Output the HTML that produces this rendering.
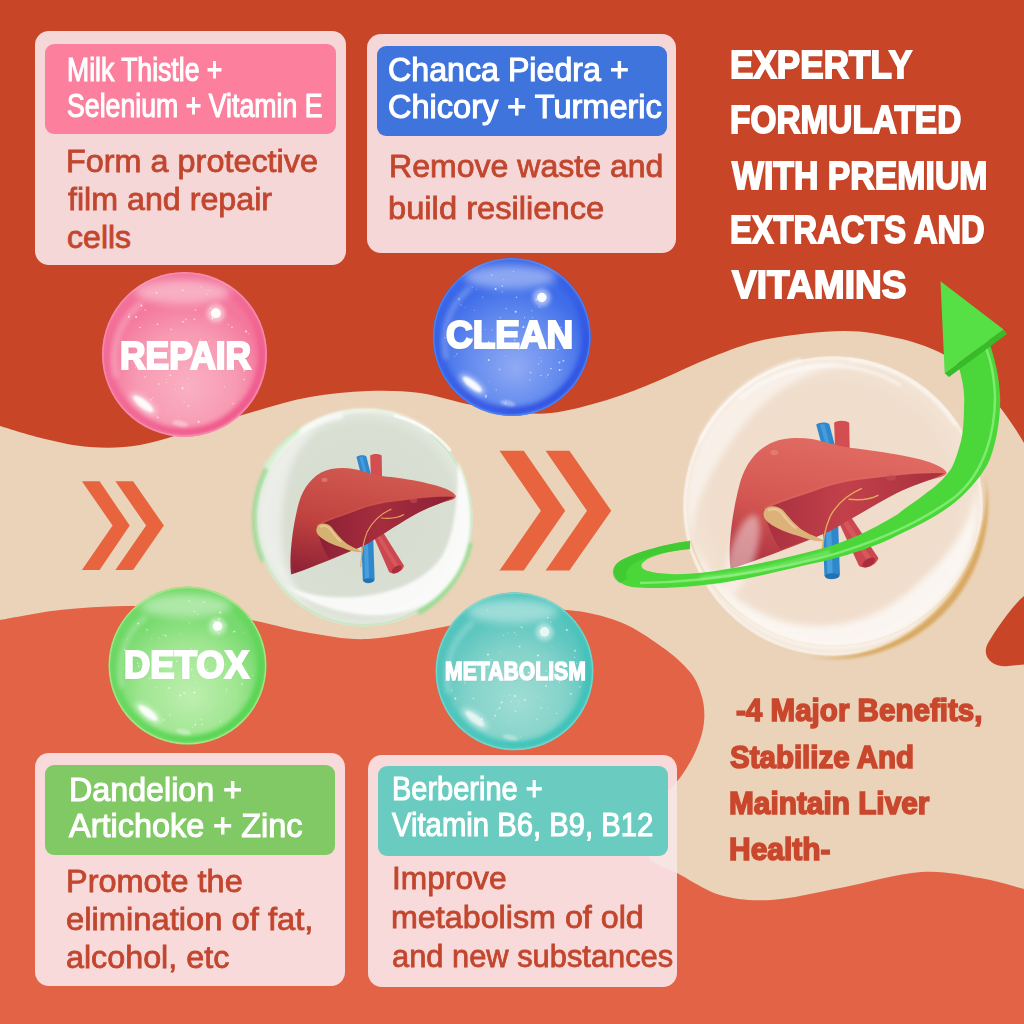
<!DOCTYPE html>
<html><head><meta charset="utf-8"><style>
html,body{margin:0;padding:0;width:1024px;height:1024px;overflow:hidden;background:#C94528}
body{position:relative;font-family:"Liberation Sans",sans-serif}
</style></head><body>
<svg width="1024" height="1024" viewBox="0 0 1024 1024" style="position:absolute;left:0;top:0">
<rect width="1024" height="1024" fill="#C94528"/>
<path d="M-5,424 C-4.2,424.3 -8.3,423.5 0.0,426.0 C8.3,428.5 30.0,435.5 45.0,439.0 C60.0,442.5 74.2,446.0 90.0,447.0 C105.8,448.0 121.7,448.2 140.0,445.0 C158.3,441.8 180.7,433.7 200.0,428.0 C219.3,422.3 237.7,416.2 256.0,411.0 C274.3,405.8 291.3,400.3 310.0,397.0 C328.7,393.7 349.7,391.7 368.0,391.0 C386.3,390.3 403.5,390.8 420.0,393.0 C436.5,395.2 452.0,401.0 467.0,404.0 C482.0,407.0 496.0,409.5 510.0,411.0 C524.0,412.5 534.8,414.8 551.0,413.0 C567.2,411.2 588.8,405.5 607.0,400.0 C625.2,394.5 642.5,387.2 660.0,380.0 C677.5,372.8 694.0,363.8 712.0,357.0 C730.0,350.2 746.2,343.3 768.0,339.0 C789.8,334.7 821.5,331.2 843.0,331.0 C864.5,330.8 881.0,334.5 897.0,338.0 C913.0,341.5 927.3,346.3 939.0,352.0 C950.7,357.7 957.0,363.0 967.0,372.0 C977.0,381.0 989.5,394.2 999.0,406.0 C1008.5,417.8 1018.8,434.0 1024.0,443.0 C1029.2,452.0 1029.0,457.2 1030.0,460.0 L1030,1030 L-5,1030 Z" fill="#EBD3B9"/>
<path d="M-5,621 C-4.2,620.8 -10.8,621.8 0.0,620.0 C10.8,618.2 39.2,612.3 60.0,610.0 C80.8,607.7 103.3,606.2 125.0,606.0 C146.7,605.8 168.2,606.5 190.0,609.0 C211.8,611.5 236.0,617.0 256.0,621.0 C276.0,625.0 291.3,630.0 310.0,633.0 C328.7,636.0 345.8,640.0 368.0,639.0 C390.2,638.0 419.3,631.2 443.0,627.0 C466.7,622.8 489.3,616.8 510.0,614.0 C530.7,611.2 548.7,608.7 567.0,610.0 C585.3,611.3 604.2,615.8 620.0,622.0 C635.8,628.2 650.3,638.7 662.0,647.0 C673.7,655.3 683.3,663.7 690.0,672.0 C696.7,680.3 699.7,688.7 702.0,697.0 C704.3,705.3 704.8,713.5 704.0,722.0 C703.2,730.5 700.7,739.2 697.0,748.0 C693.3,756.8 688.2,766.3 682.0,775.0 C675.8,783.7 663.7,795.8 660.0,800.0 L640,830 L650,860 L660,866 C662.8,867.2 667.0,868.2 677.0,873.0 C687.0,877.8 704.3,890.5 720.0,895.0 C735.7,899.5 751.0,901.2 771.0,900.0 C791.0,898.8 815.0,892.7 840.0,888.0 C865.0,883.3 897.7,873.7 921.0,872.0 C944.3,870.3 962.8,875.2 980.0,878.0 C997.2,880.8 1015.7,887.0 1024.0,889.0 C1032.3,891.0 1029.0,889.8 1030.0,890.0 L1030,1030 L-5,1030 Z" fill="#E36346"/>
<path d="M1030,594 L1024,596 C1012,606 997,628 988,643 C980,658 995,668 1008,666 L1030,664 Z" fill="#C94528"/>
<g fill="#E8643F">
<polygon points="81.9,481.2 99.6,481.2 129.7,525.6 99.6,570 81.9,570 112.6,525.6"/>
<polygon points="115.4,481.2 133.1,481.2 163.9,525.6 133.1,570 115.4,570 146.1,525.6"/>
<polygon points="499.5,450.8 523.75,450.8 565.2,510.8 523.75,570.6 499.5,570.6 540.9,510.8"/>
<polygon points="545.6,450.8 569.4,450.8 611.25,510.8 569.4,570.6 545.6,570.6 587,510.8"/>
</g>
</svg>
<svg width="1024" height="1024" viewBox="0 0 1024 1024" style="position:absolute;left:0;top:0">
<defs>
 <filter id="cblur" x="-50%" y="-50%" width="200%" height="200%"><feGaussianBlur stdDeviation="1.5"/></filter>
 <filter id="cblur3" x="-50%" y="-50%" width="200%" height="200%"><feGaussianBlur stdDeviation="3"/></filter>
 <radialGradient id="cb" cx="363.8" cy="517.7" r="109" gradientUnits="userSpaceOnUse">
  <stop offset="0" stop-color="#D6DBD0"/><stop offset="0.85" stop-color="#DADFD4"/><stop offset="1" stop-color="#E4EADF"/>
 </radialGradient>
 <radialGradient id="rb" cx="833" cy="506" r="150" gradientUnits="userSpaceOnUse">
  <stop offset="0" stop-color="#F0DCCB"/><stop offset="0.8" stop-color="#F1DFCF"/><stop offset="1" stop-color="#F3E6D8"/>
 </radialGradient>
</defs>
<!-- center bubble back -->
<circle cx="363.8" cy="517.7" r="109" fill="url(#cb)"/>
<circle cx="363.8" cy="517.7" r="107.5" fill="none" stroke="#B8E6B0" stroke-width="2.5" opacity="0.55"/>
<path d="M262,560 A109,109 0 0 1 300,430" stroke="#8FDC8F" stroke-width="4" fill="none" opacity="0.8" stroke-linecap="round" filter="url(#cblur)"/>
<path d="M470,545 A109,109 0 0 1 420,612" stroke="#8FDC8F" stroke-width="5" fill="none" opacity="0.85" stroke-linecap="round" filter="url(#cblur)"/>
<path d="M268,466 A104,104 0 0 1 340,416" stroke="#fff" stroke-width="7" fill="none" opacity="0.55" stroke-linecap="round" filter="url(#cblur)"/>
<path d="M300,432 A108,108 0 0 1 430,432" stroke="#fff" stroke-width="3" fill="none" opacity="0.8" stroke-linecap="round" filter="url(#cblur)"/>
<path d="M395,416 A104,104 0 0 1 450,450" stroke="#fff" stroke-width="3" fill="none" opacity="0.7" stroke-linecap="round"/>

<g transform="translate(280,440) scale(0.18556)">
 <defs>
  <linearGradient id="luc" x1="0.35" y1="0" x2="0.05" y2="1">
   <stop offset="0" stop-color="#D0584F"/><stop offset="0.5" stop-color="#C0423F"/><stop offset="1" stop-color="#8C2036"/>
  </linearGradient>
  <linearGradient id="llc" x1="0" y1="0" x2="1" y2="0">
   <stop offset="0" stop-color="#8C2036"/><stop offset="0.45" stop-color="#A52D3D"/><stop offset="1" stop-color="#8C2036"/>
  </linearGradient>
 </defs>
 <!-- vessels top -->
 <path d="M412,92 C425,80 458,80 466,90 L492,195 L440,200 Z" fill="#2F88CC"/>
 <path d="M428,92 L446,90 L470,190 L455,192 Z" fill="#56A9E2" opacity="0.6"/>
 <path d="M486,84 C496,72 538,72 548,84 L550,200 L490,200 Z" fill="#D24E50"/>
 <!-- vessels bottom -->
 <path d="M438,515 L502,515 L510,752 C498,778 452,778 446,755 Z" fill="#2F88CC"/>
 <path d="M452,540 L474,540 L480,748 C472,758 462,758 458,750 Z" fill="#5BB3E8" opacity="0.55"/>
 <ellipse cx="478" cy="757" rx="30" ry="12" fill="#2470B0"/>
 <path d="M498,505 L552,492 L668,678 C660,712 610,730 588,712 Z" fill="#CC4750"/>
 <path d="M520,520 L540,515 L640,680 L622,690 Z" fill="#E06A6A" opacity="0.5"/>
 <ellipse cx="628" cy="698" rx="30" ry="16" transform="rotate(-35 628 698)" fill="#A82E3A"/>
 <!-- liver body -->
 <path d="M60,725 C48,640 66,480 96,360 C112,290 150,215 222,175 C285,143 380,145 450,170 C500,185 540,195 600,200 C680,210 760,225 820,240 C880,255 930,275 948,300 C952,318 920,325 880,335 C800,360 720,400 640,450 C560,500 480,560 380,600 C260,650 140,700 60,725 Z" fill="url(#luc)"/>
 <path d="M196,470 C250,432 330,412 400,385 C470,355 540,338 620,330 C720,318 830,300 940,306 C905,330 820,352 740,395 C660,440 560,505 470,560 C400,592 330,618 265,640 C235,600 212,530 196,470 Z" fill="url(#llc)"/>
 <path d="M196,462 C250,428 330,408 400,381 C470,351 540,334 620,326 C720,314 830,296 940,302" fill="none" stroke="#D0584F" stroke-width="10" opacity="0.45"/>
 <!-- gallbladder -->
 <path d="M198,472 C206,446 250,442 276,468 C302,500 322,530 362,560 C392,580 420,586 442,602 C420,610 380,598 340,582 C280,562 232,542 206,512 C194,498 194,484 198,472 Z" fill="#D6B272"/>
 <path d="M215,470 C230,458 255,462 270,480 C285,500 300,525 330,548" fill="none" stroke="#F0D9A8" stroke-width="10" opacity="0.6"/>
 <!-- bile ducts -->
 <path d="M435,685 C440,625 440,565 470,495 C500,435 550,395 600,372 M545,420 C590,425 630,425 668,402" fill="none" stroke="#E2A85A" stroke-width="6"/>
 <!-- highlights -->
 <ellipse cx="240" cy="215" rx="16" ry="12" fill="#E58A80" opacity="0.6"/>
 <ellipse cx="720" cy="325" rx="20" ry="14" fill="#C55058" opacity="0.6"/>
</g>
<path d="M285,585 C320,614 390,628 432,600 C458,580 470,555 470,520 C470,500 466,480 458,462 C458,500 455,540 438,562 C420,582 395,592 365,596 C335,600 305,596 285,585 Z" fill="#fff" opacity="0.85" filter="url(#cblur)"/>
<path d="M311.8,607.8 L308.4,605.7 L305.1,603.6 L301.9,601.3 L298.8,598.9 L295.8,596.4 L292.9,593.8 L290.0,591.0 L287.3,588.2 L284.7,585.2 L282.2,582.2 L279.8,579.1 L277.6,575.9 L275.4,572.6 L273.4,569.2 L271.6,565.7 L269.8,562.2 L268.2,558.6 L266.7,555.0 L265.4,551.3 L264.2,547.5 L263.1,543.7 L262.2,539.9 L261.4,536.1 L260.8,532.2 L260.3,528.3 L260.0,524.4 L259.8,520.4 L259.8,516.5 L259.9,512.6 L260.2,508.6 L260.6,504.7 L261.2,500.8 L261.9,497.0 L262.7,493.1 L263.7,489.3 L264.9,485.6 L266.2,481.8 L267.6,478.2 L269.2,474.6 L270.9,471.0 L272.7,467.5 L274.7,464.1 L276.7,460.8 L279.0,457.6 L281.3,454.4 L283.7,451.3 L286.3,448.3 L289.0,445.5 L291.8,442.7 L294.7,440.0 L297.6,437.5 L300.7,435.0 L303.9,432.7 L307.2,430.5 L310.5,428.4 L313.9,426.4 L317.4,424.6 L320.9,422.9 L324.6,421.4 L328.2,420.0 L328.2,420.0 L324.8,422.0 L321.6,424.3 L318.5,426.8 L315.5,429.4 L312.7,432.1 L310.1,435.0 L307.6,437.9 L305.3,441.0 L303.1,444.0 L301.0,447.2 L299.1,450.3 L297.4,453.5 L295.7,456.8 L294.2,460.0 L292.8,463.2 L291.5,466.5 L290.4,469.7 L289.3,472.9 L288.3,476.1 L287.4,479.3 L286.6,482.5 L285.9,485.7 L285.2,488.8 L284.6,492.0 L284.0,495.1 L283.6,498.2 L283.1,501.3 L282.7,504.4 L282.4,507.5 L282.1,510.6 L281.9,513.6 L281.7,516.7 L281.5,519.9 L281.4,523.0 L281.3,526.1 L281.3,529.3 L281.4,532.5 L281.5,535.7 L281.7,538.9 L281.9,542.2 L282.2,545.5 L282.6,548.9 L283.1,552.2 L283.7,555.6 L284.4,559.0 L285.2,562.5 L286.2,565.9 L287.2,569.4 L288.4,572.8 L289.7,576.3 L291.2,579.7 L292.8,583.1 L294.6,586.5 L296.5,589.8 L298.6,593.1 L300.9,596.3 L303.4,599.4 L306.0,602.4 L308.8,605.2 L311.8,607.8 Z" fill="#fff" opacity="0.45" filter="url(#cblur3)"/>
<!-- right bubble -->
<circle cx="833" cy="506" r="150" fill="url(#rb)" opacity="0.9"/>
<circle cx="833" cy="506" r="148" fill="none" stroke="#F7EDE2" stroke-width="3" opacity="0.8"/>
<path d="M690,540 A151,151 0 0 0 983,520" stroke="#E9CFA6" stroke-width="2" fill="none" opacity="0.9"/>
<path d="M984.6,473.0 L985.6,477.9 L986.4,482.9 L987.0,487.8 L987.5,492.8 L987.8,497.8 L988.0,502.8 L988.0,507.9 L987.8,512.9 L987.5,517.9 L987.0,522.9 L986.3,527.9 L985.5,532.8 L984.5,537.7 L983.3,542.6 L982.0,547.4 L980.6,552.2 L979.0,557.0 L977.2,561.7 L975.3,566.3 L973.2,570.9 L971.0,575.4 L968.6,579.8 L966.1,584.2 L963.4,588.4 L960.7,592.6 L957.7,596.7 L954.7,600.7 L951.5,604.5 L948.2,608.3 L944.8,612.0 L941.2,615.5 L937.6,619.0 L933.8,622.3 L929.9,625.5 L926.0,628.5 L921.9,631.5 L917.7,634.3 L913.5,636.9 L909.1,639.4 L904.7,641.8 L900.2,644.0 L895.7,646.1 L891.0,648.1 L886.3,649.8 L881.6,651.5 L876.8,652.9 L872.0,654.3 L867.1,655.4 L862.2,656.4 L857.2,657.2 L852.2,657.9 L847.2,658.4 L842.2,658.8 L837.2,659.0 L832.2,659.0 L827.2,658.8 L822.2,658.5 L817.2,658.1 L812.2,657.5 L807.3,656.7 L807.3,656.7 L812.2,657.2 L817.2,657.6 L822.2,657.8 L827.2,657.8 L832.2,657.6 L837.2,657.2 L842.1,656.7 L847.0,656.0 L851.9,655.2 L856.7,654.2 L861.5,653.0 L866.3,651.7 L870.9,650.2 L875.6,648.6 L880.1,646.9 L884.6,645.0 L889.0,643.0 L893.4,640.9 L897.7,638.7 L901.9,636.3 L906.0,633.8 L910.0,631.2 L914.0,628.4 L917.8,625.6 L921.6,622.7 L925.3,619.6 L928.9,616.5 L932.4,613.3 L935.8,609.9 L939.1,606.5 L942.3,603.0 L945.4,599.4 L948.4,595.7 L951.3,591.9 L954.1,588.1 L956.8,584.2 L959.4,580.2 L961.9,576.1 L964.3,572.0 L966.6,567.8 L968.8,563.5 L970.9,559.2 L972.8,554.8 L974.7,550.4 L976.4,545.8 L978.0,541.3 L979.5,536.6 L980.8,531.9 L982.0,527.2 L983.1,522.4 L984.0,517.6 L984.7,512.7 L985.3,507.8 L985.8,502.9 L986.0,497.9 L986.1,492.9 L986.1,487.9 L985.8,482.9 L985.3,478.0 L984.6,473.0 Z" fill="#D9A860" opacity="1" filter="url(#cblur)"/>
<path d="M692.0,543.8 L690.7,538.8 L689.7,533.9 L688.8,528.8 L688.1,523.8 L687.6,518.7 L687.2,513.6 L687.0,508.5 L687.0,503.5 L687.2,498.4 L687.6,493.3 L688.1,488.2 L688.8,483.2 L689.7,478.1 L690.7,473.2 L692.0,468.2 L693.4,463.3 L695.0,458.5 L696.7,453.7 L698.6,449.0 L700.7,444.3 L702.9,439.7 L705.3,435.2 L707.9,430.8 L710.6,426.5 L713.4,422.3 L716.4,418.1 L719.5,414.1 L722.8,410.2 L726.2,406.4 L729.8,402.8 L733.4,399.2 L737.2,395.8 L741.1,392.5 L745.1,389.4 L749.3,386.4 L753.5,383.6 L757.8,380.9 L762.2,378.3 L766.7,375.9 L771.3,373.7 L776.0,371.6 L780.7,369.7 L785.5,368.0 L790.3,366.4 L795.2,365.0 L800.2,363.7 L805.1,362.7 L810.2,361.8 L815.2,361.1 L820.3,360.6 L825.4,360.2 L830.5,360.0 L835.5,360.0 L840.6,360.2 L845.7,360.6 L850.8,361.1 L855.8,361.8 L860.9,362.7 L865.8,363.7 L870.8,365.0 L870.8,365.0 L865.7,364.4 L860.6,364.1 L855.5,364.1 L850.4,364.4 L845.4,364.8 L840.4,365.5 L835.4,366.4 L830.6,367.4 L825.8,368.7 L821.1,370.1 L816.5,371.6 L812.0,373.3 L807.6,375.2 L803.2,377.1 L799.0,379.2 L794.9,381.4 L790.9,383.7 L787.0,386.1 L783.2,388.6 L779.5,391.2 L775.9,393.9 L772.4,396.6 L769.0,399.4 L765.6,402.3 L762.4,405.2 L759.3,408.2 L756.2,411.2 L753.3,414.3 L750.4,417.4 L747.6,420.6 L744.9,423.8 L742.2,427.1 L739.6,430.4 L737.1,433.8 L734.7,437.2 L732.3,440.6 L729.9,444.1 L727.6,447.6 L725.2,451.1 L722.9,454.6 L720.5,458.3 L718.2,461.9 L715.9,465.7 L713.7,469.5 L711.4,473.4 L709.3,477.4 L707.1,481.5 L705.1,485.7 L703.1,490.1 L701.2,494.5 L699.5,499.0 L697.8,503.6 L696.4,508.4 L695.0,513.2 L693.9,518.2 L692.9,523.2 L692.2,528.3 L691.8,533.4 L691.7,538.6 L692.0,543.8 Z" fill="#fff" opacity="0.5" filter="url(#cblur3)"/>
<path d="M740,398 A140,140 0 0 1 900,385" stroke="#fff" stroke-width="3" fill="none" opacity="0.6" stroke-linecap="round" filter="url(#cblur)"/>
<path d="M700,440 A150,150 0 0 1 800,360" stroke="#fff" stroke-width="4" fill="none" opacity="0.55" stroke-linecap="round" filter="url(#cblur)"/>
<path d="M850,360 A148,148 0 0 1 955,425" stroke="#fff" stroke-width="3" fill="none" opacity="0.6" stroke-linecap="round" filter="url(#cblur)"/>

<g transform="translate(715.99,403.6) scale(0.2431,0.2277)">
 <defs>
  <linearGradient id="lur" x1="0.35" y1="0" x2="0.05" y2="1">
   <stop offset="0" stop-color="#E06A62"/><stop offset="0.5" stop-color="#D45652"/><stop offset="1" stop-color="#A8303F"/>
  </linearGradient>
  <linearGradient id="llr" x1="0" y1="0" x2="1" y2="0">
   <stop offset="0" stop-color="#A8303F"/><stop offset="0.45" stop-color="#C2404A"/><stop offset="1" stop-color="#A8303F"/>
  </linearGradient>
 </defs>
 <!-- vessels top -->
 <path d="M412,92 C425,80 458,80 466,90 L492,195 L440,200 Z" fill="#2F88CC"/>
 <path d="M428,92 L446,90 L470,190 L455,192 Z" fill="#56A9E2" opacity="0.6"/>
 <path d="M486,84 C496,72 538,72 548,84 L550,200 L490,200 Z" fill="#D24E50"/>
 <!-- vessels bottom -->
 <path d="M438,515 L502,515 L510,752 C498,778 452,778 446,755 Z" fill="#2F88CC"/>
 <path d="M452,540 L474,540 L480,748 C472,758 462,758 458,750 Z" fill="#5BB3E8" opacity="0.55"/>
 <ellipse cx="478" cy="757" rx="30" ry="12" fill="#2470B0"/>
 <path d="M498,505 L552,492 L668,678 C660,712 610,730 588,712 Z" fill="#CC4750"/>
 <path d="M520,520 L540,515 L640,680 L622,690 Z" fill="#E06A6A" opacity="0.5"/>
 <ellipse cx="628" cy="698" rx="30" ry="16" transform="rotate(-35 628 698)" fill="#A82E3A"/>
 <!-- liver body -->
 <path d="M60,725 C48,640 66,480 96,360 C112,290 150,215 222,175 C285,143 380,145 450,170 C500,185 540,195 600,200 C680,210 760,225 820,240 C880,255 930,275 948,300 C952,318 920,325 880,335 C800,360 720,400 640,450 C560,500 480,560 380,600 C260,650 140,700 60,725 Z" fill="url(#lur)"/>
 <path d="M196,470 C250,432 330,412 400,385 C470,355 540,338 620,330 C720,318 830,300 940,306 C905,330 820,352 740,395 C660,440 560,505 470,560 C400,592 330,618 265,640 C235,600 212,530 196,470 Z" fill="url(#llr)"/>
 <path d="M196,462 C250,428 330,408 400,381 C470,351 540,334 620,326 C720,314 830,296 940,302" fill="none" stroke="#E06A62" stroke-width="10" opacity="0.45"/>
 <!-- gallbladder -->
 <path d="M198,472 C206,446 250,442 276,468 C302,500 322,530 362,560 C392,580 420,586 442,602 C420,610 380,598 340,582 C280,562 232,542 206,512 C194,498 194,484 198,472 Z" fill="#DDB27A"/>
 <path d="M215,470 C230,458 255,462 270,480 C285,500 300,525 330,548" fill="none" stroke="#F0D9A8" stroke-width="10" opacity="0.6"/>
 <!-- bile ducts -->
 <path d="M435,685 C440,625 440,565 470,495 C500,435 550,395 600,372 M545,420 C590,425 630,425 668,402" fill="none" stroke="#E2A85A" stroke-width="6"/>
 <!-- highlights -->
 <ellipse cx="240" cy="215" rx="16" ry="12" fill="#E58A80" opacity="0.6"/>
 <ellipse cx="720" cy="325" rx="20" ry="14" fill="#C55058" opacity="0.6"/>
</g>
<path d="M976.6,484.8 L977.4,492.2 L977.9,499.6 L978.0,507.0 L977.7,514.4 L977.0,521.8 L976.0,529.2 L974.5,536.5 L972.7,543.7 L970.6,550.8 L968.1,557.8 L965.2,564.6 L962.0,571.3 L958.4,577.8 L954.5,584.1 L950.3,590.2 L945.8,596.1 L941.0,601.8 L935.9,607.2 L930.5,612.3 L924.9,617.2 L919.0,621.7 L913.0,626.0 L906.7,629.9 L900.2,633.5 L893.5,636.8 L886.7,639.7 L879.7,642.3 L872.6,644.5 L865.5,646.3 L858.2,647.8 L850.8,648.9 L843.5,649.6 L836.0,650.0 L828.6,649.9 L821.2,649.5 L813.8,648.7 L806.5,647.6 L799.2,646.0 L792.1,644.1 L785.0,641.8 L778.1,639.2 L771.3,636.2 L764.6,632.9 L758.2,629.2 L751.9,625.2 L745.9,620.9 L740.1,616.3 L734.5,611.4 L729.2,606.2 L724.1,600.8 L719.4,595.1 L714.9,589.1 L710.8,583.0 L706.9,576.6 L703.4,570.1 L700.3,563.4 L697.5,556.5 L695.0,549.5 L692.9,542.4 L691.2,535.1 L691.2,535.1 L693.5,542.2 L696.3,549.1 L699.6,555.7 L703.2,562.1 L707.2,568.2 L711.4,574.1 L716.0,579.6 L720.8,584.9 L725.9,589.9 L731.2,594.5 L736.7,598.9 L742.3,602.9 L748.1,606.6 L754.1,610.0 L760.2,613.0 L766.3,615.7 L772.5,618.1 L778.8,620.1 L785.2,621.8 L791.5,623.2 L797.9,624.3 L804.2,625.1 L810.6,625.6 L816.9,625.8 L823.2,625.7 L829.4,625.3 L835.5,624.6 L841.6,623.7 L847.6,622.5 L853.5,621.0 L859.3,619.3 L864.9,617.4 L870.5,615.2 L876.0,612.8 L881.3,610.2 L886.5,607.3 L891.6,604.3 L896.5,601.0 L901.3,597.6 L905.9,594.0 L910.4,590.2 L914.9,586.3 L919.3,582.3 L923.7,578.3 L928.1,574.1 L932.5,569.8 L936.8,565.2 L941.1,560.5 L945.3,555.6 L949.4,550.5 L953.4,545.1 L957.3,539.4 L960.9,533.4 L964.4,527.2 L967.5,520.7 L970.3,514.0 L972.7,507.0 L974.6,499.7 L976.0,492.3 L976.6,484.8 Z" fill="#fff" opacity="0.7" filter="url(#cblur3)"/>
<ellipse cx="742" cy="555" rx="13" ry="42" fill="#fff" opacity="0.45" transform="rotate(18 742 555)" filter="url(#cblur3)"/>
<!-- green arrow -->
<path d="M690,541 C670,543 635,552 620,561 C608,569 614,584 632,587 C660,590 700,586 727,582 C760,577 790,568 820,562 C850,555 880,545 898,535 C920,525 945,512 960,498 C975,484 988,468 992,453 C998,435 1001,410 1000,395 C999,375 994,355 988,340 L958,365 C963,380 965,395 964,406 C964,420 963,432 961,441 C958,452 955,462 951,469 C943,480 935,487 925,494 C915,502 905,508 898,514 C885,522 870,530 859,535 C845,541 832,546 820,549 C790,557 760,564 727,569 C700,574 672,576 652,572 C636,569 640,562 652,557 C665,552 680,550 690,549 Z" fill="#4BD73A"/>
<path d="M690,541 C670,543 635,552 620,561 C610,567 611,578 620,583 L628,578 C624,574 626,568 636,562 C655,553 675,550 690,549 Z" fill="#3DC52F" opacity="0.7"/>
<path d="M640,583 C700,582 760,573 820,558 C870,545 920,523 955,497 C985,472 995,432 995,397 C994,372 990,356 984,344" fill="none" stroke="#8CF07C" stroke-width="2.5" opacity="0.8"/>
<path d="M700,578 C760,572 790,563 830,552" fill="none" stroke="#A8F59A" stroke-width="3" opacity="0.5" filter="url(#cblur)"/>
<polygon points="940.5,281.3 1003.6,329.4 944.7,373.3" fill="#57E046"/>
<polygon points="1003.6,329.4 944.7,373.3 949,377 1007,334" fill="#36BC29"/>
</svg>
<svg width="1024" height="1024" viewBox="0 0 1024 1024" style="position:absolute;left:0;top:0">
<defs><filter id="blur1" x="-50%" y="-50%" width="200%" height="200%"><feGaussianBlur stdDeviation="0.8"/></filter>
<filter id="blur2" x="-50%" y="-50%" width="200%" height="200%"><feGaussianBlur stdDeviation="2"/></filter>
<filter id="blur3" x="-50%" y="-50%" width="200%" height="200%"><feGaussianBlur stdDeviation="4"/></filter>
<radialGradient id="gp" cx="184.5" cy="375.025" r="99.0" fx="188.625" fy="387.4" gradientUnits="userSpaceOnUse">
 <stop offset="0" stop-color="#FAB0C2"/>
 <stop offset="0.5" stop-color="#F79AB2"/>
 <stop offset="0.8" stop-color="#F4789D"/>
 <stop offset="1" stop-color="#F4789D"/>
</radialGradient>
<clipPath id="clp"><circle cx="184.5" cy="354.4" r="82.5"/></clipPath>
<linearGradient id="dpp" x1="135.0" y1="280.15" x2="209.25" y2="436.9" gradientUnits="userSpaceOnUse">
 <stop offset="0" stop-color="#EE4C86" stop-opacity="0.1"/>
 <stop offset="0.45" stop-color="#EE4C86" stop-opacity="0.45"/>
 <stop offset="1" stop-color="#EE4C86" stop-opacity="1"/>
</linearGradient>
<radialGradient id="gb" cx="511.8" cy="356.75" r="94.8" fx="515.75" fy="368.6" gradientUnits="userSpaceOnUse">
 <stop offset="0" stop-color="#90AAF4"/>
 <stop offset="0.5" stop-color="#6189EE"/>
 <stop offset="0.8" stop-color="#3F6DE9"/>
 <stop offset="1" stop-color="#3F6DE9"/>
</radialGradient>
<clipPath id="clb"><circle cx="511.8" cy="337" r="79"/></clipPath>
<linearGradient id="dpb" x1="464.40000000000003" y1="265.9" x2="535.5" y2="416" gradientUnits="userSpaceOnUse">
 <stop offset="0" stop-color="#2A48E0" stop-opacity="0.1"/>
 <stop offset="0.45" stop-color="#2A48E0" stop-opacity="0.45"/>
 <stop offset="1" stop-color="#2A48E0" stop-opacity="1"/>
</linearGradient>
<radialGradient id="gg" cx="187.5" cy="685.35" r="94.8" fx="191.45" fy="697.2" gradientUnits="userSpaceOnUse">
 <stop offset="0" stop-color="#BDEFAE"/>
 <stop offset="0.5" stop-color="#A0E692"/>
 <stop offset="0.8" stop-color="#78DA6E"/>
 <stop offset="1" stop-color="#78DA6E"/>
</radialGradient>
<clipPath id="clg"><circle cx="187.5" cy="665.6" r="79"/></clipPath>
<linearGradient id="dpg" x1="140.1" y1="594.5" x2="211.2" y2="744.6" gradientUnits="userSpaceOnUse">
 <stop offset="0" stop-color="#48D045" stop-opacity="0.1"/>
 <stop offset="0.45" stop-color="#48D045" stop-opacity="0.45"/>
 <stop offset="1" stop-color="#48D045" stop-opacity="1"/>
</linearGradient>
<radialGradient id="gt" cx="514.5" cy="691.05" r="94.8" fx="518.45" fy="702.9" gradientUnits="userSpaceOnUse">
 <stop offset="0" stop-color="#9FDDD4"/>
 <stop offset="0.5" stop-color="#84D3CA"/>
 <stop offset="0.8" stop-color="#5CC6BF"/>
 <stop offset="1" stop-color="#5CC6BF"/>
</radialGradient>
<clipPath id="clt"><circle cx="514.5" cy="671.3" r="79"/></clipPath>
<linearGradient id="dpt" x1="467.1" y1="600.1999999999999" x2="538.2" y2="750.3" gradientUnits="userSpaceOnUse">
 <stop offset="0" stop-color="#2EC0B6" stop-opacity="0.1"/>
 <stop offset="0.45" stop-color="#2EC0B6" stop-opacity="0.45"/>
 <stop offset="1" stop-color="#2EC0B6" stop-opacity="1"/>
</linearGradient></defs>

<circle cx="184.5" cy="354.4" r="82.5" fill="url(#gp)"/>
<g clip-path="url(#clp)">
<circle cx="184.5" cy="354.4" r="77.5" fill="none" stroke="url(#dpp)" stroke-width="8" opacity="0.85" filter="url(#blur2)"/>
<circle cx="184.5" cy="354.4" r="81.7" fill="none" stroke="#F590B0" stroke-width="1.6" opacity="0.8"/>
<ellipse cx="182.85" cy="291.7" rx="47.849999999999994" ry="12.375" fill="#fff" opacity="0.4" filter="url(#blur3)"/>
<path d="M115.2,375.025 A72.6,72.6 0 0 1 139.125,304.9" stroke="#fff" stroke-width="6.6" fill="none" opacity="0.2" stroke-linecap="round" filter="url(#blur2)"/>
</g>
<ellipse cx="143.25" cy="403.9" rx="12.375" ry="4.125" transform="rotate(38 143.25 403.9)" fill="#fff" opacity="0.95" filter="url(#blur1)"/>
<ellipse cx="143.25" cy="403.9" rx="17.325" ry="7.425" transform="rotate(38 143.25 403.9)" fill="#fff" opacity="0.3" filter="url(#blur2)"/>
<ellipse cx="180.375" cy="423.7" rx="8.25" ry="2.8875" transform="rotate(12 180.375 423.7)" fill="#fff" opacity="0.35" filter="url(#blur1)"/>
<circle cx="215.85" cy="313.15" r="4.95" fill="#fff" opacity="0.95"/>
<circle cx="215.85" cy="313.15" r="9.075" fill="#fff" opacity="0.5" filter="url(#blur2)"/>
<circle cx="188.4" cy="406.0" r="0.8" fill="#fff" opacity="0.7"/><circle cx="131.8" cy="363.1" r="0.5" fill="#fff" opacity="0.55"/><circle cx="182.5" cy="388.3" r="1.0" fill="#fff" opacity="0.7"/><circle cx="209.5" cy="313.0" r="0.6" fill="#fff" opacity="0.4"/><circle cx="141.3" cy="305.4" r="1.0" fill="#fff" opacity="0.7"/><circle cx="246.0" cy="360.3" r="0.6" fill="#fff" opacity="0.7"/><circle cx="244.2" cy="370.9" r="0.8" fill="#fff" opacity="0.55"/><circle cx="128.8" cy="316.7" r="1.0" fill="#fff" opacity="0.7"/><circle cx="195.4" cy="309.9" r="1.0" fill="#fff" opacity="0.4"/><circle cx="200.4" cy="339.3" r="0.6" fill="#fff" opacity="0.55"/><circle cx="198.7" cy="421.8" r="1.0" fill="#fff" opacity="0.7"/><circle cx="212.4" cy="318.5" r="1.0" fill="#fff" opacity="0.7"/><circle cx="152.7" cy="397.6" r="0.6" fill="#fff" opacity="0.55"/><circle cx="156.5" cy="292.9" r="0.8" fill="#fff" opacity="0.7"/><circle cx="171.1" cy="329.5" r="0.8" fill="#fff" opacity="0.7"/><circle cx="228.2" cy="324.6" r="0.6" fill="#fff" opacity="0.7"/><circle cx="210.6" cy="308.1" r="0.8" fill="#fff" opacity="0.4"/><circle cx="244.2" cy="379.6" r="1.0" fill="#fff" opacity="0.4"/><circle cx="174.4" cy="369.4" r="0.6" fill="#fff" opacity="0.4"/><circle cx="167.8" cy="413.6" r="0.5" fill="#fff" opacity="0.4"/><circle cx="136.1" cy="316.9" r="1.0" fill="#fff" opacity="0.7"/><circle cx="139.9" cy="327.5" r="0.8" fill="#fff" opacity="0.7"/><circle cx="185.7" cy="367.7" r="0.5" fill="#fff" opacity="0.4"/><circle cx="224.4" cy="386.6" r="0.6" fill="#fff" opacity="0.55"/><circle cx="175.2" cy="389.2" r="0.5" fill="#fff" opacity="0.55"/><circle cx="157.7" cy="417.6" r="1.0" fill="#fff" opacity="0.55"/><circle cx="135.5" cy="366.9" r="0.5" fill="#fff" opacity="0.7"/><circle cx="246.8" cy="343.7" r="0.8" fill="#fff" opacity="0.55"/><circle cx="145.1" cy="310.1" r="0.8" fill="#fff" opacity="0.55"/><circle cx="234.6" cy="347.4" r="0.8" fill="#fff" opacity="0.4"/><circle cx="201.1" cy="286.7" r="0.8" fill="#fff" opacity="0.4"/><circle cx="146.1" cy="392.1" r="0.6" fill="#fff" opacity="0.4"/><circle cx="157.5" cy="324.3" r="0.8" fill="#fff" opacity="0.7"/><circle cx="232.0" cy="327.2" r="0.8" fill="#fff" opacity="0.7"/><circle cx="130.8" cy="357.9" r="0.5" fill="#fff" opacity="0.55"/><circle cx="184.2" cy="401.8" r="0.8" fill="#fff" opacity="0.4"/><circle cx="158.8" cy="384.0" r="0.8" fill="#fff" opacity="0.7"/><circle cx="179.0" cy="416.4" r="0.5" fill="#fff" opacity="0.4"/><circle cx="241.5" cy="344.0" r="0.6" fill="#fff" opacity="0.55"/><circle cx="127.8" cy="354.4" r="0.8" fill="#fff" opacity="0.4"/><circle cx="157.4" cy="405.4" r="0.5" fill="#fff" opacity="0.4"/><circle cx="129.4" cy="314.0" r="0.6" fill="#fff" opacity="0.55"/><circle cx="209.7" cy="290.5" r="0.5" fill="#fff" opacity="0.55"/><circle cx="182.9" cy="321.7" r="1.0" fill="#fff" opacity="0.55"/><circle cx="188.3" cy="378.5" r="0.6" fill="#fff" opacity="0.55"/><circle cx="206.9" cy="294.2" r="0.6" fill="#fff" opacity="0.55"/><circle cx="150.3" cy="408.3" r="0.5" fill="#fff" opacity="0.7"/><circle cx="170.3" cy="375.3" r="0.8" fill="#fff" opacity="0.7"/><circle cx="194.4" cy="319.3" r="0.8" fill="#fff" opacity="0.7"/><circle cx="145.1" cy="377.1" r="1.0" fill="#fff" opacity="0.4"/><circle cx="208.8" cy="341.2" r="0.5" fill="#fff" opacity="0.55"/><circle cx="246.1" cy="331.4" r="1.0" fill="#fff" opacity="0.7"/><circle cx="248.7" cy="333.6" r="0.6" fill="#fff" opacity="0.4"/><circle cx="182.7" cy="290.3" r="0.8" fill="#fff" opacity="0.7"/><circle cx="166.4" cy="382.5" r="0.5" fill="#fff" opacity="0.7"/><circle cx="208.4" cy="350.0" r="0.6" fill="#fff" opacity="0.4"/><circle cx="245.8" cy="368.2" r="0.6" fill="#fff" opacity="0.55"/><circle cx="177.4" cy="350.7" r="0.5" fill="#fff" opacity="0.4"/><circle cx="150.2" cy="353.7" r="0.5" fill="#fff" opacity="0.7"/><circle cx="168.8" cy="350.7" r="0.5" fill="#fff" opacity="0.55"/><circle cx="233.3" cy="403.4" r="1.0" fill="#fff" opacity="0.4"/><circle cx="165.9" cy="379.4" r="0.5" fill="#fff" opacity="0.4"/><circle cx="186.9" cy="391.0" r="0.6" fill="#fff" opacity="0.4"/><circle cx="131.7" cy="358.6" r="1.0" fill="#fff" opacity="0.4"/><circle cx="185.9" cy="319.5" r="1.0" fill="#fff" opacity="0.4"/><circle cx="123.6" cy="364.9" r="0.5" fill="#fff" opacity="0.4"/><circle cx="186.9" cy="339.5" r="0.5" fill="#fff" opacity="0.4"/><circle cx="171.8" cy="355.8" r="0.5" fill="#fff" opacity="0.7"/><circle cx="145.1" cy="353.9" r="0.8" fill="#fff" opacity="0.4"/><circle cx="151.0" cy="399.8" r="0.8" fill="#fff" opacity="0.55"/>

<circle cx="511.8" cy="337" r="79" fill="url(#gb)"/>
<g clip-path="url(#clb)">
<circle cx="511.8" cy="337" r="74" fill="none" stroke="url(#dpb)" stroke-width="8" opacity="0.85" filter="url(#blur2)"/>
<circle cx="511.8" cy="337" r="78.2" fill="none" stroke="#4A8AF2" stroke-width="1.6" opacity="0.8"/>
<ellipse cx="510.22" cy="276.96" rx="45.82" ry="11.85" fill="#fff" opacity="0.4" filter="url(#blur3)"/>
<path d="M445.44,356.75 A69.52,69.52 0 0 1 468.35,289.6" stroke="#fff" stroke-width="6.3" fill="none" opacity="0.2" stroke-linecap="round" filter="url(#blur2)"/>
</g>
<ellipse cx="472.3" cy="384.4" rx="11.85" ry="3.95" transform="rotate(38 472.3 384.4)" fill="#fff" opacity="0.95" filter="url(#blur1)"/>
<ellipse cx="472.3" cy="384.4" rx="16.59" ry="7.109999999999999" transform="rotate(38 472.3 384.4)" fill="#fff" opacity="0.3" filter="url(#blur2)"/>
<ellipse cx="507.85" cy="403.36" rx="7.9" ry="2.765" transform="rotate(12 507.85 403.36)" fill="#fff" opacity="0.35" filter="url(#blur1)"/>
<circle cx="541.82" cy="297.5" r="4.74" fill="#fff" opacity="0.95"/>
<circle cx="541.82" cy="297.5" r="8.69" fill="#fff" opacity="0.5" filter="url(#blur2)"/>
<circle cx="505.5" cy="403.5" r="1.0" fill="#fff" opacity="0.4"/><circle cx="514.6" cy="339.9" r="1.0" fill="#fff" opacity="0.4"/><circle cx="499.1" cy="331.3" r="1.0" fill="#fff" opacity="0.7"/><circle cx="482.8" cy="297.0" r="0.5" fill="#fff" opacity="0.7"/><circle cx="523.5" cy="326.9" r="1.0" fill="#fff" opacity="0.7"/><circle cx="485.8" cy="397.1" r="1.0" fill="#fff" opacity="0.55"/><circle cx="543.0" cy="340.5" r="0.8" fill="#fff" opacity="0.7"/><circle cx="461.0" cy="304.8" r="0.6" fill="#fff" opacity="0.55"/><circle cx="519.5" cy="345.2" r="0.8" fill="#fff" opacity="0.55"/><circle cx="561.0" cy="327.2" r="0.8" fill="#fff" opacity="0.4"/><circle cx="488.8" cy="342.3" r="1.0" fill="#fff" opacity="0.7"/><circle cx="541.2" cy="360.9" r="0.5" fill="#fff" opacity="0.7"/><circle cx="502.2" cy="291.8" r="0.6" fill="#fff" opacity="0.55"/><circle cx="531.4" cy="342.6" r="0.5" fill="#fff" opacity="0.7"/><circle cx="532.6" cy="317.6" r="0.5" fill="#fff" opacity="0.55"/><circle cx="524.5" cy="317.4" r="0.5" fill="#fff" opacity="0.7"/><circle cx="456.1" cy="343.4" r="0.8" fill="#fff" opacity="0.7"/><circle cx="505.7" cy="356.1" r="0.6" fill="#fff" opacity="0.4"/><circle cx="491.8" cy="329.9" r="0.5" fill="#fff" opacity="0.7"/><circle cx="489.1" cy="382.0" r="0.5" fill="#fff" opacity="0.4"/><circle cx="565.8" cy="336.4" r="1.0" fill="#fff" opacity="0.7"/><circle cx="491.7" cy="275.0" r="0.8" fill="#fff" opacity="0.55"/><circle cx="459.0" cy="298.9" r="1.0" fill="#fff" opacity="0.4"/><circle cx="488.7" cy="360.0" r="1.0" fill="#fff" opacity="0.7"/><circle cx="554.2" cy="328.1" r="1.0" fill="#fff" opacity="0.4"/><circle cx="472.2" cy="287.2" r="0.6" fill="#fff" opacity="0.4"/><circle cx="559.7" cy="369.9" r="1.0" fill="#fff" opacity="0.7"/><circle cx="506.2" cy="308.6" r="0.8" fill="#fff" opacity="0.4"/><circle cx="541.0" cy="375.4" r="0.6" fill="#fff" opacity="0.7"/><circle cx="454.2" cy="323.0" r="1.0" fill="#fff" opacity="0.7"/><circle cx="542.9" cy="296.2" r="0.8" fill="#fff" opacity="0.4"/><circle cx="499.6" cy="369.5" r="1.0" fill="#fff" opacity="0.4"/><circle cx="530.7" cy="372.6" r="0.8" fill="#fff" opacity="0.55"/><circle cx="515.7" cy="311.8" r="1.0" fill="#fff" opacity="0.7"/><circle cx="474.5" cy="310.2" r="0.5" fill="#fff" opacity="0.55"/><circle cx="529.8" cy="336.2" r="1.0" fill="#fff" opacity="0.7"/><circle cx="522.4" cy="327.3" r="0.6" fill="#fff" opacity="0.4"/><circle cx="476.5" cy="289.5" r="0.5" fill="#fff" opacity="0.4"/><circle cx="531.9" cy="310.8" r="0.6" fill="#fff" opacity="0.55"/><circle cx="546.2" cy="377.3" r="0.5" fill="#fff" opacity="0.55"/><circle cx="518.7" cy="349.5" r="0.6" fill="#fff" opacity="0.55"/><circle cx="562.3" cy="369.5" r="0.5" fill="#fff" opacity="0.4"/><circle cx="506.1" cy="400.9" r="0.5" fill="#fff" opacity="0.55"/><circle cx="456.8" cy="354.0" r="0.8" fill="#fff" opacity="0.4"/><circle cx="549.8" cy="344.1" r="1.0" fill="#fff" opacity="0.55"/><circle cx="559.4" cy="362.4" r="1.0" fill="#fff" opacity="0.55"/><circle cx="538.5" cy="363.9" r="0.8" fill="#fff" opacity="0.4"/><circle cx="500.4" cy="317.6" r="0.8" fill="#fff" opacity="0.4"/><circle cx="456.4" cy="327.3" r="0.8" fill="#fff" opacity="0.55"/><circle cx="496.2" cy="390.0" r="0.8" fill="#fff" opacity="0.4"/><circle cx="513.5" cy="271.2" r="0.5" fill="#fff" opacity="0.7"/><circle cx="472.0" cy="338.5" r="0.8" fill="#fff" opacity="0.7"/><circle cx="503.8" cy="279.7" r="0.6" fill="#fff" opacity="0.4"/><circle cx="467.5" cy="383.7" r="1.0" fill="#fff" opacity="0.4"/><circle cx="550.9" cy="368.6" r="0.8" fill="#fff" opacity="0.7"/><circle cx="502.2" cy="286.0" r="0.8" fill="#fff" opacity="0.7"/><circle cx="529.8" cy="380.0" r="0.6" fill="#fff" opacity="0.7"/><circle cx="563.4" cy="360.7" r="1.0" fill="#fff" opacity="0.55"/><circle cx="540.1" cy="357.5" r="0.5" fill="#fff" opacity="0.4"/><circle cx="557.8" cy="349.5" r="0.6" fill="#fff" opacity="0.7"/><circle cx="516.5" cy="297.3" r="0.8" fill="#fff" opacity="0.55"/><circle cx="454.6" cy="356.3" r="0.5" fill="#fff" opacity="0.55"/><circle cx="444.8" cy="337.8" r="0.6" fill="#fff" opacity="0.55"/><circle cx="465.0" cy="307.3" r="0.5" fill="#fff" opacity="0.4"/><circle cx="495.6" cy="289.1" r="1.0" fill="#fff" opacity="0.7"/><circle cx="548.0" cy="374.8" r="1.0" fill="#fff" opacity="0.4"/><circle cx="485.2" cy="329.3" r="0.6" fill="#fff" opacity="0.4"/><circle cx="539.5" cy="307.0" r="0.8" fill="#fff" opacity="0.4"/><circle cx="536.3" cy="299.5" r="1.0" fill="#fff" opacity="0.55"/><circle cx="486.1" cy="395.5" r="0.8" fill="#fff" opacity="0.7"/>

<circle cx="187.5" cy="665.6" r="79" fill="url(#gg)"/>
<g clip-path="url(#clg)">
<circle cx="187.5" cy="665.6" r="74" fill="none" stroke="url(#dpg)" stroke-width="8" opacity="0.85" filter="url(#blur2)"/>
<circle cx="187.5" cy="665.6" r="78.2" fill="none" stroke="#B5E58A" stroke-width="1.6" opacity="0.8"/>
<ellipse cx="185.92" cy="605.5600000000001" rx="45.82" ry="11.85" fill="#fff" opacity="0.4" filter="url(#blur3)"/>
<path d="M121.14,685.35 A69.52,69.52 0 0 1 144.05,618.2" stroke="#fff" stroke-width="6.3" fill="none" opacity="0.2" stroke-linecap="round" filter="url(#blur2)"/>
</g>
<ellipse cx="148.0" cy="713.0" rx="11.85" ry="3.95" transform="rotate(38 148.0 713.0)" fill="#fff" opacity="0.95" filter="url(#blur1)"/>
<ellipse cx="148.0" cy="713.0" rx="16.59" ry="7.109999999999999" transform="rotate(38 148.0 713.0)" fill="#fff" opacity="0.3" filter="url(#blur2)"/>
<ellipse cx="183.55" cy="731.96" rx="7.9" ry="2.765" transform="rotate(12 183.55 731.96)" fill="#fff" opacity="0.35" filter="url(#blur1)"/>
<circle cx="217.52" cy="626.1" r="4.74" fill="#fff" opacity="0.95"/>
<circle cx="217.52" cy="626.1" r="8.69" fill="#fff" opacity="0.5" filter="url(#blur2)"/>
<circle cx="138.7" cy="666.3" r="0.8" fill="#fff" opacity="0.7"/><circle cx="135.7" cy="670.8" r="0.5" fill="#fff" opacity="0.4"/><circle cx="194.5" cy="611.4" r="1.0" fill="#fff" opacity="0.4"/><circle cx="142.4" cy="658.9" r="0.6" fill="#fff" opacity="0.7"/><circle cx="201.9" cy="724.4" r="1.0" fill="#fff" opacity="0.4"/><circle cx="127.3" cy="639.1" r="0.6" fill="#fff" opacity="0.4"/><circle cx="167.9" cy="669.7" r="0.5" fill="#fff" opacity="0.4"/><circle cx="166.8" cy="690.6" r="0.5" fill="#fff" opacity="0.55"/><circle cx="124.7" cy="649.9" r="0.8" fill="#fff" opacity="0.55"/><circle cx="225.9" cy="624.9" r="0.6" fill="#fff" opacity="0.4"/><circle cx="220.3" cy="625.1" r="0.5" fill="#fff" opacity="0.7"/><circle cx="246.2" cy="697.8" r="0.6" fill="#fff" opacity="0.4"/><circle cx="216.1" cy="631.7" r="0.6" fill="#fff" opacity="0.55"/><circle cx="163.6" cy="720.1" r="1.0" fill="#fff" opacity="0.4"/><circle cx="219.3" cy="619.0" r="1.0" fill="#fff" opacity="0.55"/><circle cx="170.2" cy="668.5" r="1.0" fill="#fff" opacity="0.4"/><circle cx="165.6" cy="635.7" r="1.0" fill="#fff" opacity="0.55"/><circle cx="189.4" cy="623.1" r="0.6" fill="#fff" opacity="0.55"/><circle cx="233.5" cy="631.9" r="0.8" fill="#fff" opacity="0.55"/><circle cx="149.3" cy="678.6" r="1.0" fill="#fff" opacity="0.4"/><circle cx="246.6" cy="654.2" r="0.8" fill="#fff" opacity="0.55"/><circle cx="215.8" cy="701.3" r="0.6" fill="#fff" opacity="0.4"/><circle cx="194.5" cy="692.4" r="1.0" fill="#fff" opacity="0.7"/><circle cx="193.0" cy="675.3" r="0.5" fill="#fff" opacity="0.7"/><circle cx="210.6" cy="706.5" r="0.5" fill="#fff" opacity="0.4"/><circle cx="156.4" cy="687.3" r="0.5" fill="#fff" opacity="0.7"/><circle cx="180.1" cy="633.6" r="0.5" fill="#fff" opacity="0.55"/><circle cx="123.5" cy="668.3" r="0.6" fill="#fff" opacity="0.4"/><circle cx="225.9" cy="691.4" r="0.6" fill="#fff" opacity="0.55"/><circle cx="159.1" cy="638.1" r="0.5" fill="#fff" opacity="0.7"/><circle cx="241.8" cy="683.9" r="0.8" fill="#fff" opacity="0.55"/><circle cx="203.6" cy="601.7" r="1.0" fill="#fff" opacity="0.4"/><circle cx="176.7" cy="661.2" r="0.8" fill="#fff" opacity="0.7"/><circle cx="225.3" cy="663.9" r="0.5" fill="#fff" opacity="0.7"/><circle cx="169.1" cy="673.5" r="0.5" fill="#fff" opacity="0.4"/><circle cx="207.3" cy="669.4" r="0.6" fill="#fff" opacity="0.7"/><circle cx="202.7" cy="669.2" r="0.8" fill="#fff" opacity="0.4"/><circle cx="234.7" cy="631.2" r="0.8" fill="#fff" opacity="0.55"/><circle cx="244.0" cy="633.3" r="0.5" fill="#fff" opacity="0.55"/><circle cx="169.9" cy="714.9" r="1.0" fill="#fff" opacity="0.4"/><circle cx="214.7" cy="656.2" r="1.0" fill="#fff" opacity="0.4"/><circle cx="137.9" cy="663.3" r="1.0" fill="#fff" opacity="0.4"/><circle cx="220.1" cy="612.4" r="1.0" fill="#fff" opacity="0.7"/><circle cx="169.2" cy="687.9" r="1.0" fill="#fff" opacity="0.55"/><circle cx="195.2" cy="724.4" r="1.0" fill="#fff" opacity="0.55"/><circle cx="184.1" cy="693.1" r="1.0" fill="#fff" opacity="0.55"/><circle cx="214.3" cy="673.0" r="0.5" fill="#fff" opacity="0.55"/><circle cx="234.3" cy="696.1" r="0.5" fill="#fff" opacity="0.55"/><circle cx="192.5" cy="727.1" r="0.5" fill="#fff" opacity="0.7"/><circle cx="218.8" cy="633.2" r="0.8" fill="#fff" opacity="0.55"/><circle cx="217.1" cy="665.9" r="0.5" fill="#fff" opacity="0.55"/><circle cx="167.3" cy="656.3" r="0.5" fill="#fff" opacity="0.7"/><circle cx="201.2" cy="719.6" r="0.6" fill="#fff" opacity="0.7"/><circle cx="229.0" cy="717.8" r="0.5" fill="#fff" opacity="0.4"/><circle cx="180.3" cy="695.4" r="1.0" fill="#fff" opacity="0.7"/><circle cx="197.7" cy="614.4" r="0.6" fill="#fff" opacity="0.55"/><circle cx="195.8" cy="682.6" r="0.5" fill="#fff" opacity="0.7"/><circle cx="252.8" cy="675.5" r="0.6" fill="#fff" opacity="0.55"/><circle cx="226.8" cy="689.1" r="0.6" fill="#fff" opacity="0.7"/><circle cx="147.2" cy="629.9" r="0.8" fill="#fff" opacity="0.55"/><circle cx="151.8" cy="638.5" r="0.5" fill="#fff" opacity="0.55"/><circle cx="214.0" cy="621.1" r="1.0" fill="#fff" opacity="0.4"/><circle cx="191.8" cy="669.5" r="0.8" fill="#fff" opacity="0.7"/><circle cx="163.0" cy="634.9" r="0.6" fill="#fff" opacity="0.55"/><circle cx="189.0" cy="601.1" r="0.8" fill="#fff" opacity="0.55"/><circle cx="191.2" cy="648.6" r="0.6" fill="#fff" opacity="0.4"/><circle cx="147.9" cy="719.7" r="0.8" fill="#fff" opacity="0.4"/><circle cx="169.8" cy="673.8" r="0.6" fill="#fff" opacity="0.55"/><circle cx="220.4" cy="721.4" r="0.6" fill="#fff" opacity="0.7"/><circle cx="138.1" cy="623.6" r="1.0" fill="#fff" opacity="0.55"/>

<circle cx="514.5" cy="671.3" r="79" fill="url(#gt)"/>
<g clip-path="url(#clt)">
<circle cx="514.5" cy="671.3" r="74" fill="none" stroke="url(#dpt)" stroke-width="8" opacity="0.85" filter="url(#blur2)"/>
<circle cx="514.5" cy="671.3" r="78.2" fill="none" stroke="#7FD5CB" stroke-width="1.6" opacity="0.8"/>
<ellipse cx="512.92" cy="611.26" rx="45.82" ry="11.85" fill="#fff" opacity="0.4" filter="url(#blur3)"/>
<path d="M448.14,691.05 A69.52,69.52 0 0 1 471.05,623.9" stroke="#fff" stroke-width="6.3" fill="none" opacity="0.2" stroke-linecap="round" filter="url(#blur2)"/>
</g>
<ellipse cx="475.0" cy="718.6999999999999" rx="11.85" ry="3.95" transform="rotate(38 475.0 718.6999999999999)" fill="#fff" opacity="0.7" filter="url(#blur1)"/>
<ellipse cx="475.0" cy="718.6999999999999" rx="16.59" ry="7.109999999999999" transform="rotate(38 475.0 718.6999999999999)" fill="#fff" opacity="0.3" filter="url(#blur2)"/>
<ellipse cx="510.55" cy="737.66" rx="7.9" ry="2.765" transform="rotate(12 510.55 737.66)" fill="#fff" opacity="0.35" filter="url(#blur1)"/>
<circle cx="544.52" cy="631.8" r="4.74" fill="#fff" opacity="0.7"/>
<circle cx="544.52" cy="631.8" r="8.69" fill="#fff" opacity="0.5" filter="url(#blur2)"/>
<circle cx="574.9" cy="650.8" r="1.0" fill="#fff" opacity="0.55"/><circle cx="566.8" cy="630.1" r="1.0" fill="#fff" opacity="0.7"/><circle cx="546.3" cy="653.9" r="0.5" fill="#fff" opacity="0.4"/><circle cx="523.3" cy="664.2" r="0.6" fill="#fff" opacity="0.55"/><circle cx="497.9" cy="670.9" r="1.0" fill="#fff" opacity="0.4"/><circle cx="524.9" cy="700.1" r="1.0" fill="#fff" opacity="0.55"/><circle cx="559.2" cy="682.1" r="0.6" fill="#fff" opacity="0.7"/><circle cx="519.6" cy="646.4" r="1.0" fill="#fff" opacity="0.55"/><circle cx="552.0" cy="647.0" r="0.6" fill="#fff" opacity="0.4"/><circle cx="454.3" cy="676.1" r="0.8" fill="#fff" opacity="0.55"/><circle cx="576.8" cy="663.3" r="0.8" fill="#fff" opacity="0.4"/><circle cx="455.4" cy="698.5" r="1.0" fill="#fff" opacity="0.7"/><circle cx="546.2" cy="671.0" r="0.8" fill="#fff" opacity="0.55"/><circle cx="554.8" cy="678.8" r="0.8" fill="#fff" opacity="0.55"/><circle cx="513.5" cy="606.5" r="0.5" fill="#fff" opacity="0.4"/><circle cx="547.7" cy="707.3" r="0.5" fill="#fff" opacity="0.4"/><circle cx="517.3" cy="670.4" r="1.0" fill="#fff" opacity="0.55"/><circle cx="573.5" cy="663.6" r="0.5" fill="#fff" opacity="0.55"/><circle cx="517.6" cy="678.4" r="1.0" fill="#fff" opacity="0.55"/><circle cx="541.2" cy="626.5" r="0.5" fill="#fff" opacity="0.55"/><circle cx="501.9" cy="702.2" r="1.0" fill="#fff" opacity="0.55"/><circle cx="507.9" cy="632.7" r="0.5" fill="#fff" opacity="0.55"/><circle cx="579.7" cy="686.9" r="0.6" fill="#fff" opacity="0.7"/><circle cx="514.9" cy="696.0" r="1.0" fill="#fff" opacity="0.7"/><circle cx="514.6" cy="632.3" r="0.6" fill="#fff" opacity="0.55"/><circle cx="528.7" cy="672.8" r="1.0" fill="#fff" opacity="0.7"/><circle cx="570.8" cy="693.8" r="1.0" fill="#fff" opacity="0.55"/><circle cx="456.7" cy="663.6" r="1.0" fill="#fff" opacity="0.55"/><circle cx="486.9" cy="668.1" r="0.6" fill="#fff" opacity="0.4"/><circle cx="487.5" cy="610.1" r="0.5" fill="#fff" opacity="0.55"/><circle cx="521.3" cy="627.1" r="0.8" fill="#fff" opacity="0.55"/><circle cx="451.6" cy="690.6" r="0.6" fill="#fff" opacity="0.7"/><circle cx="495.3" cy="715.8" r="1.0" fill="#fff" opacity="0.55"/><circle cx="550.7" cy="622.1" r="0.8" fill="#fff" opacity="0.4"/><circle cx="493.4" cy="718.7" r="0.5" fill="#fff" opacity="0.55"/><circle cx="556.5" cy="713.4" r="0.8" fill="#fff" opacity="0.4"/><circle cx="497.5" cy="678.6" r="0.5" fill="#fff" opacity="0.7"/><circle cx="456.4" cy="676.1" r="1.0" fill="#fff" opacity="0.4"/><circle cx="499.6" cy="707.9" r="1.0" fill="#fff" opacity="0.55"/><circle cx="500.4" cy="703.3" r="0.5" fill="#fff" opacity="0.55"/><circle cx="497.2" cy="709.7" r="0.8" fill="#fff" opacity="0.4"/><circle cx="537.3" cy="696.0" r="0.5" fill="#fff" opacity="0.55"/><circle cx="518.3" cy="701.1" r="0.5" fill="#fff" opacity="0.7"/><circle cx="457.4" cy="661.8" r="0.5" fill="#fff" opacity="0.7"/><circle cx="547.8" cy="617.8" r="0.8" fill="#fff" opacity="0.7"/><circle cx="546.0" cy="686.0" r="1.0" fill="#fff" opacity="0.55"/><circle cx="508.9" cy="720.6" r="0.5" fill="#fff" opacity="0.4"/><circle cx="520.3" cy="736.8" r="0.6" fill="#fff" opacity="0.4"/><circle cx="538.0" cy="655.5" r="1.0" fill="#fff" opacity="0.7"/><circle cx="509.5" cy="675.0" r="1.0" fill="#fff" opacity="0.4"/><circle cx="537.0" cy="719.4" r="0.8" fill="#fff" opacity="0.4"/><circle cx="500.1" cy="651.8" r="0.6" fill="#fff" opacity="0.4"/><circle cx="488.6" cy="667.4" r="0.6" fill="#fff" opacity="0.55"/><circle cx="522.4" cy="627.8" r="0.6" fill="#fff" opacity="0.4"/><circle cx="509.8" cy="695.2" r="0.6" fill="#fff" opacity="0.55"/><circle cx="542.3" cy="699.8" r="0.5" fill="#fff" opacity="0.4"/><circle cx="555.4" cy="673.2" r="0.6" fill="#fff" opacity="0.55"/><circle cx="515.5" cy="711.3" r="1.0" fill="#fff" opacity="0.4"/><circle cx="503.7" cy="635.3" r="0.5" fill="#fff" opacity="0.7"/><circle cx="481.7" cy="719.3" r="1.0" fill="#fff" opacity="0.7"/><circle cx="473.4" cy="698.4" r="0.8" fill="#fff" opacity="0.55"/><circle cx="541.4" cy="707.8" r="1.0" fill="#fff" opacity="0.4"/><circle cx="516.0" cy="634.8" r="0.6" fill="#fff" opacity="0.55"/><circle cx="574.4" cy="657.3" r="0.6" fill="#fff" opacity="0.55"/><circle cx="511.5" cy="701.4" r="0.5" fill="#fff" opacity="0.7"/><circle cx="557.1" cy="665.5" r="0.6" fill="#fff" opacity="0.4"/><circle cx="490.6" cy="659.4" r="0.5" fill="#fff" opacity="0.55"/><circle cx="570.0" cy="668.4" r="0.8" fill="#fff" opacity="0.4"/><circle cx="464.7" cy="683.0" r="0.8" fill="#fff" opacity="0.4"/><circle cx="488.0" cy="654.4" r="1.0" fill="#fff" opacity="0.7"/>

</svg>
<div style="position:absolute;left:35px;top:31px;width:311px;height:234px;border-radius:14px;background:rgba(248,231,233,0.9)"></div>
<div style="position:absolute;left:45px;top:44px;width:291px;height:90px;border-radius:9px;background:#FC809E"></div><div style="position:absolute;left:367px;top:34px;width:309px;height:219px;border-radius:14px;background:rgba(248,231,233,0.9)"></div>
<div style="position:absolute;left:377px;top:46px;width:290px;height:90px;border-radius:9px;background:#3E74DC"></div><div style="position:absolute;left:35px;top:753px;width:310px;height:233px;border-radius:14px;background:rgba(248,231,233,0.9)"></div>
<div style="position:absolute;left:45px;top:765px;width:290px;height:90px;border-radius:9px;background:#80C965"></div><div style="position:absolute;left:368px;top:755px;width:309px;height:232px;border-radius:14px;background:rgba(248,231,233,0.9)"></div>
<div style="position:absolute;left:378px;top:766px;width:290px;height:90px;border-radius:9px;background:#6ACCC0"></div>
<div style="position:absolute;left:66.69px;top:52.80px;font-size:33px;font-weight:400;line-height:33px;color:#FFFFFF;-webkit-text-stroke:1.1px #FFFFFF;transform:scaleX(0.8053);transform-origin:0 0;white-space:pre">Milk Thistle +</div>
<div style="position:absolute;left:67.49px;top:89.40px;font-size:33px;font-weight:400;line-height:33px;color:#FFFFFF;-webkit-text-stroke:1.1px #FFFFFF;transform:scaleX(0.8089);transform-origin:0 0;white-space:pre">Selenium + Vitamin E</div>
<div style="position:absolute;left:388.02px;top:53.20px;font-size:33px;font-weight:400;line-height:33px;color:#FFFFFF;-webkit-text-stroke:1.1px #FFFFFF;transform:scaleX(0.9755);transform-origin:0 0;white-space:pre">Chanca Piedra +</div>
<div style="position:absolute;left:388.01px;top:89.80px;font-size:33px;font-weight:400;line-height:33px;color:#FFFFFF;-webkit-text-stroke:1.1px #FFFFFF;transform:scaleX(0.9856);transform-origin:0 0;white-space:pre">Chicory + Turmeric</div>
<div style="position:absolute;left:68.85px;top:773.20px;font-size:33px;font-weight:400;line-height:33px;color:#FFFFFF;-webkit-text-stroke:1.1px #FFFFFF;transform:scaleX(0.9770);transform-origin:0 0;white-space:pre">Dandelion +</div>
<div style="position:absolute;left:68.50px;top:809.40px;font-size:33px;font-weight:400;line-height:33px;color:#FFFFFF;-webkit-text-stroke:1.1px #FFFFFF;transform:scaleX(0.9831);transform-origin:0 0;white-space:pre">Artichoke + Zinc</div>
<div style="position:absolute;left:391.84px;top:771.80px;font-size:33px;font-weight:400;line-height:33px;color:#FFFFFF;-webkit-text-stroke:1.1px #FFFFFF;transform:scaleX(0.8781);transform-origin:0 0;white-space:pre">Berberine +</div>
<div style="position:absolute;left:391.80px;top:808.40px;font-size:33px;font-weight:400;line-height:33px;color:#FFFFFF;-webkit-text-stroke:1.1px #FFFFFF;transform:scaleX(0.8867);transform-origin:0 0;white-space:pre">Vitamin B6, B9, B12</div>
<div style="position:absolute;left:66.08px;top:144.80px;font-size:32px;font-weight:400;line-height:32px;color:#C2462E;-webkit-text-stroke:0.8px #C2462E;transform:scaleX(1.0122);transform-origin:0 0;white-space:pre">Form a protective</div>
<div style="position:absolute;left:68.10px;top:182.80px;font-size:32px;font-weight:400;line-height:32px;color:#C2462E;-webkit-text-stroke:0.8px #C2462E;transform:scaleX(1.0064);transform-origin:0 0;white-space:pre">film and repair</div>
<div style="position:absolute;left:67.10px;top:221.00px;font-size:32px;font-weight:400;line-height:32px;color:#C2462E;-webkit-text-stroke:0.8px #C2462E;transform:scaleX(1.0000);transform-origin:0 0;white-space:pre">cells</div>
<div style="position:absolute;left:388.50px;top:150.10px;font-size:32px;font-weight:400;line-height:32px;color:#C2462E;-webkit-text-stroke:0.8px #C2462E;transform:scaleX(1.0018);transform-origin:0 0;white-space:pre">Remove waste and</div>
<div style="position:absolute;left:388.46px;top:191.50px;font-size:32px;font-weight:400;line-height:32px;color:#C2462E;-webkit-text-stroke:0.8px #C2462E;transform:scaleX(1.0215);transform-origin:0 0;white-space:pre">build resilience</div>
<div style="position:absolute;left:65.87px;top:864.70px;font-size:32px;font-weight:400;line-height:32px;color:#C2462E;-webkit-text-stroke:0.8px #C2462E;transform:scaleX(1.0135);transform-origin:0 0;white-space:pre">Promote the</div>
<div style="position:absolute;left:66.48px;top:902.50px;font-size:32px;font-weight:400;line-height:32px;color:#C2462E;-webkit-text-stroke:0.8px #C2462E;transform:scaleX(1.0230);transform-origin:0 0;white-space:pre">elimination of fat,</div>
<div style="position:absolute;left:66.49px;top:940.70px;font-size:32px;font-weight:400;line-height:32px;color:#C2462E;-webkit-text-stroke:0.8px #C2462E;transform:scaleX(1.0087);transform-origin:0 0;white-space:pre">alcohol, etc</div>
<div style="position:absolute;left:391.62px;top:862.30px;font-size:32px;font-weight:400;line-height:32px;color:#C2462E;-webkit-text-stroke:0.8px #C2462E;transform:scaleX(0.9912);transform-origin:0 0;white-space:pre">Improve</div>
<div style="position:absolute;left:390.68px;top:901.00px;font-size:32px;font-weight:400;line-height:32px;color:#C2462E;-webkit-text-stroke:0.8px #C2462E;transform:scaleX(1.0081);transform-origin:0 0;white-space:pre">metabolism of old</div>
<div style="position:absolute;left:391.74px;top:939.50px;font-size:32px;font-weight:400;line-height:32px;color:#C2462E;-webkit-text-stroke:0.8px #C2462E;transform:scaleX(0.9638);transform-origin:0 0;white-space:pre">and new substances</div>
<div style="position:absolute;left:119.88px;top:336.50px;font-size:38.5px;font-weight:700;line-height:38.5px;color:#FFFFFF;-webkit-text-stroke:2.2px #FFFFFF;text-shadow:1px 1px 1px rgba(0,0,0,0.15);transform:scaleX(0.9196);transform-origin:0 0;white-space:pre">REPAIR</div>
<div style="position:absolute;left:446.20px;top:315.90px;font-size:38.5px;font-weight:700;line-height:38.5px;color:#FFFFFF;-webkit-text-stroke:2.2px #FFFFFF;text-shadow:1px 1px 1px rgba(0,0,0,0.15);transform:scaleX(0.9595);transform-origin:0 0;white-space:pre">CLEAN</div>
<div style="position:absolute;left:123.85px;top:645.90px;font-size:38.5px;font-weight:700;line-height:38.5px;color:#FFFFFF;-webkit-text-stroke:2.2px #FFFFFF;text-shadow:1px 1px 1px rgba(0,0,0,0.15);transform:scaleX(0.9477);transform-origin:0 0;white-space:pre">DETOX</div>
<div style="position:absolute;left:445.10px;top:657.60px;font-size:26.5px;font-weight:700;line-height:26.5px;color:#FFFFFF;-webkit-text-stroke:1.6px #FFFFFF;text-shadow:1px 1px 1px rgba(0,0,0,0.15);transform:scaleX(0.7994);transform-origin:0 0;white-space:pre">METABOLISM</div>
<div style="position:absolute;left:729.70px;top:44.70px;font-size:39px;font-weight:700;line-height:39px;color:#FFFFFF;-webkit-text-stroke:1.8px #FFFFFF;text-shadow:1px 1px 1px rgba(90,20,5,0.35);transform:scaleX(0.9005);transform-origin:0 0;white-space:pre">EXPERTLY</div>
<div style="position:absolute;left:729.79px;top:100.00px;font-size:39px;font-weight:700;line-height:39px;color:#FFFFFF;-webkit-text-stroke:1.8px #FFFFFF;text-shadow:1px 1px 1px rgba(90,20,5,0.35);transform:scaleX(0.8563);transform-origin:0 0;white-space:pre">FORMULATED</div>
<div style="position:absolute;left:732.37px;top:155.70px;font-size:39px;font-weight:700;line-height:39px;color:#FFFFFF;-webkit-text-stroke:1.8px #FFFFFF;text-shadow:1px 1px 1px rgba(90,20,5,0.35);transform:scaleX(0.8673);transform-origin:0 0;white-space:pre">WITH PREMIUM</div>
<div style="position:absolute;left:729.82px;top:209.90px;font-size:39px;font-weight:700;line-height:39px;color:#FFFFFF;-webkit-text-stroke:1.8px #FFFFFF;text-shadow:1px 1px 1px rgba(90,20,5,0.35);transform:scaleX(0.8377);transform-origin:0 0;white-space:pre">EXTRACTS AND</div>
<div style="position:absolute;left:732.45px;top:265.00px;font-size:39px;font-weight:700;line-height:39px;color:#FFFFFF;-webkit-text-stroke:1.8px #FFFFFF;text-shadow:1px 1px 1px rgba(90,20,5,0.35);transform:scaleX(0.9511);transform-origin:0 0;white-space:pre">VITAMINS</div>
<div style="position:absolute;left:735.80px;top:695.40px;font-size:31px;font-weight:700;line-height:31px;color:#C9472D;-webkit-text-stroke:1.6px #C9472D;transform:scaleX(0.9541);transform-origin:0 0;white-space:pre">-4 Major Benefits,</div>
<div style="position:absolute;left:729.80px;top:741.70px;font-size:31px;font-weight:700;line-height:31px;color:#C9472D;-webkit-text-stroke:1.6px #C9472D;transform:scaleX(0.9516);transform-origin:0 0;white-space:pre">Stabilize And</div>
<div style="position:absolute;left:728.54px;top:787.50px;font-size:31px;font-weight:700;line-height:31px;color:#C9472D;-webkit-text-stroke:1.6px #C9472D;transform:scaleX(0.9615);transform-origin:0 0;white-space:pre">Maintain Liver</div>
<div style="position:absolute;left:728.53px;top:834.00px;font-size:31px;font-weight:700;line-height:31px;color:#C9472D;-webkit-text-stroke:1.6px #C9472D;transform:scaleX(0.9663);transform-origin:0 0;white-space:pre">Health-</div>

</body></html>
